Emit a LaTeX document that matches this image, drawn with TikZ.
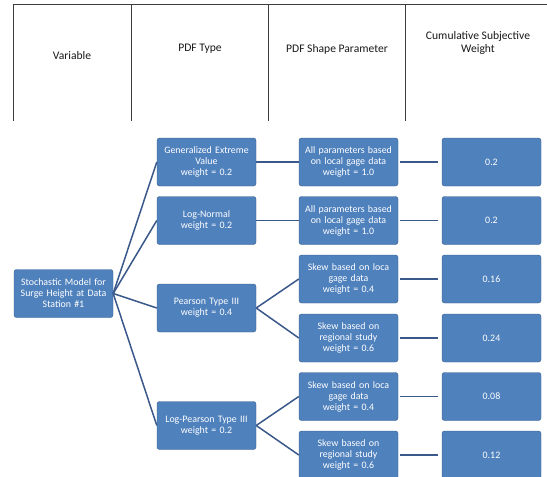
\documentclass[tikz,border=0pt]{standalone}
\usepackage{fontspec}
\setmainfont{Carlito}
\usepackage{tikz}

\definecolor{boxblue}{RGB}{79,129,189}
\definecolor{boxedge}{RGB}{56,93,138}
\definecolor{linkblue}{RGB}{58,88,138}
\definecolor{gridgray}{RGB}{60,60,60}

\begin{document}
\begin{tikzpicture}[x=1pt,y=-1pt,
  box/.style={draw=boxedge,fill=boxblue,rounded corners=2.5pt,minimum width=99pt,minimum height=48pt,
    text width=97pt,align=center,text=white,inner sep=1pt,font=\fontsize{9.9}{11}\selectfont},
  link/.style={draw=linkblue,line width=1.5pt},
  head/.style={align=center,text=black!90,font=\fontsize{11.6}{12.5}\selectfont}]
\useasboundingbox (0,0) rectangle (547,477);

% header table
\draw [gridgray,line width=1pt] (13,121) -- (13,4) -- (547,4) ;
\draw [gridgray,line width=1pt] (131,4) -- (131,121) ;
\draw [gridgray,line width=1pt] (268,4) -- (268,121) ;
\draw [gridgray,line width=1pt] (405,4) -- (405,121) ;
\node [head] (hvar) at (72,56) {Variable};
\node [head] (hpdf) at (200,49) {PDF Type};
\node [head] (hshape) at (337,49) {PDF Shape Parameter};
\node [head] (hweight) at (478,43) {Cumulative Subjective\\Weight};

% variable
\node [box] (root) at (63.5,293.5) {Stochastic Model for\\Surge Height at Data\\Station \#1};

% pdf types
\node [box] (gev) at (206.5,162) {Generalized Extreme\\Value\\weight = 0.2};
\node [box] (logn) at (206.5,220.5) {Log-Normal\\weight = 0.2};
\node [box] (pear) at (206.5,308) {Pearson Type III\\weight = 0.4};
\node [box] (lpear) at (206.5,425.5) {Log-Pearson Type III\\weight = 0.2};

% shape parameters
\node [box] (s1) at (348.5,162) {All parameters based\\on local gage data\\weight = 1.0};
\node [box] (s2) at (348.5,220.5) {All parameters based\\on local gage data\\weight = 1.0};
\node [box] (s3) at (348.5,279) {Skew based on loca\\gage data\\weight = 0.4};
\node [box] (s4) at (348.5,338) {Skew based on\\regional study\\weight = 0.6};
\node [box] (s5) at (348.5,396.5) {Skew based on loca\\gage data\\weight = 0.4};
\node [box] (s6) at (348.5,455) {Skew based on\\regional study\\weight = 0.6};

% cumulative weights
\node [box] (w1) at (491.5,162) {0.2};
\node [box] (w2) at (491.5,220.5) {0.2};
\node [box] (w3) at (491.5,279) {0.16};
\node [box] (w4) at (491.5,338) {0.24};
\node [box] (w5) at (491.5,396.5) {0.08};
\node [box] (w6) at (491.5,455) {0.12};

% links
\foreach \t in {gev,logn,pear,lpear}
  \draw [link] (root.east) -- (\t.west);
\draw [link] (gev.east) -- (s1.west);
\draw [link] (logn.east) -- (s2.west);
\draw [link] (pear.east) -- (s3.west);
\draw [link] (pear.east) -- (s4.west);
\draw [link] (lpear.east) -- (s5.west);
\draw [link] (lpear.east) -- (s6.west);
\foreach \i in {1,...,6}
  \draw [link,shorten <=2pt,shorten >=4pt] (s\i.east) -- (w\i.west);
\end{tikzpicture}
\end{document}
